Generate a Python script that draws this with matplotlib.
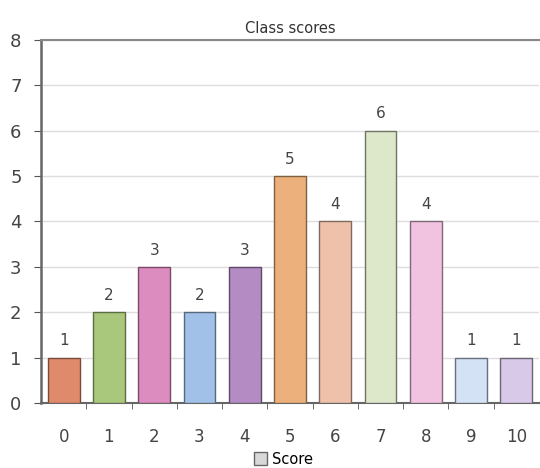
import matplotlib
matplotlib.use("Agg")
import matplotlib.pyplot as plt
from matplotlib.patches import Patch

# donnees
categories = list(range(11))
scores = [1, 2, 3, 2, 3, 5, 4, 6, 4, 1, 1]
couleurs = ["#e08a6c", "#a9c87c", "#dc8cbe", "#a2c1e8", "#b48bc2", "#ecb07c",
            "#efc1aa", "#dce8c9", "#f1c3e0", "#d3e2f5", "#d9c9e8"]
bords = ["#7a4a3a", "#5a6e42", "#7a4a66", "#56687e", "#5e4a68", "#7e6040",
         "#7e6a5e", "#6e7464", "#7e6a76", "#66707e", "#6a6474"]

fig = plt.figure(figsize=(5.4, 4.68), dpi=100)
ax = fig.add_axes([0.076, 0.139, 0.922, 0.776])

ax.bar(categories, scores, width=0.7, color=couleurs, edgecolor=bords, linewidth=1.0, zorder=3)

for x, v in zip(categories, scores):
    ax.text(x, v + 0.2, str(v), ha="center", va="bottom", fontsize=11, color="#444444")

ax.set_xlim(-0.5, 10.5)
ax.set_ylim(0, 8)
ax.set_yticks(range(9))
ax.set_xticks(categories)
ax.set_xticks([c + 0.5 for c in categories[:-1]], minor=True)
ax.tick_params(axis="x", which="major", length=0, labelsize=12, labelcolor="#444444", pad=18)
ax.tick_params(axis="x", which="minor", length=4, color="#555555", direction="out")
ax.tick_params(axis="y", length=5, color="#555555", labelsize=13, labelcolor="#444444", pad=9)

ax.grid(axis="y", color="#dddddd", linewidth=1.0, zorder=0)
ax.set_axisbelow(True)

ax.spines["left"].set_color("#666666")
ax.spines["left"].set_linewidth(1.8)
ax.spines["bottom"].set_color("#666666")
ax.spines["bottom"].set_linewidth(1.5)
ax.spines["top"].set_color("#888888")
ax.spines["top"].set_linewidth(1.5)
ax.spines["right"].set_visible(False)

ax.set_title("Class scores", fontsize=10.5, color="#333333", pad=5)

fig.legend(handles=[Patch(facecolor="#d8d8d8", edgecolor="#666666", label="Score")],
           loc="lower center", bbox_to_anchor=(0.525, -0.025), frameon=False,
           prop={"size": 10.5}, handlelength=0.9, handleheight=0.9, handletextpad=0.4)

fig.savefig("out.png", dpi=100)
